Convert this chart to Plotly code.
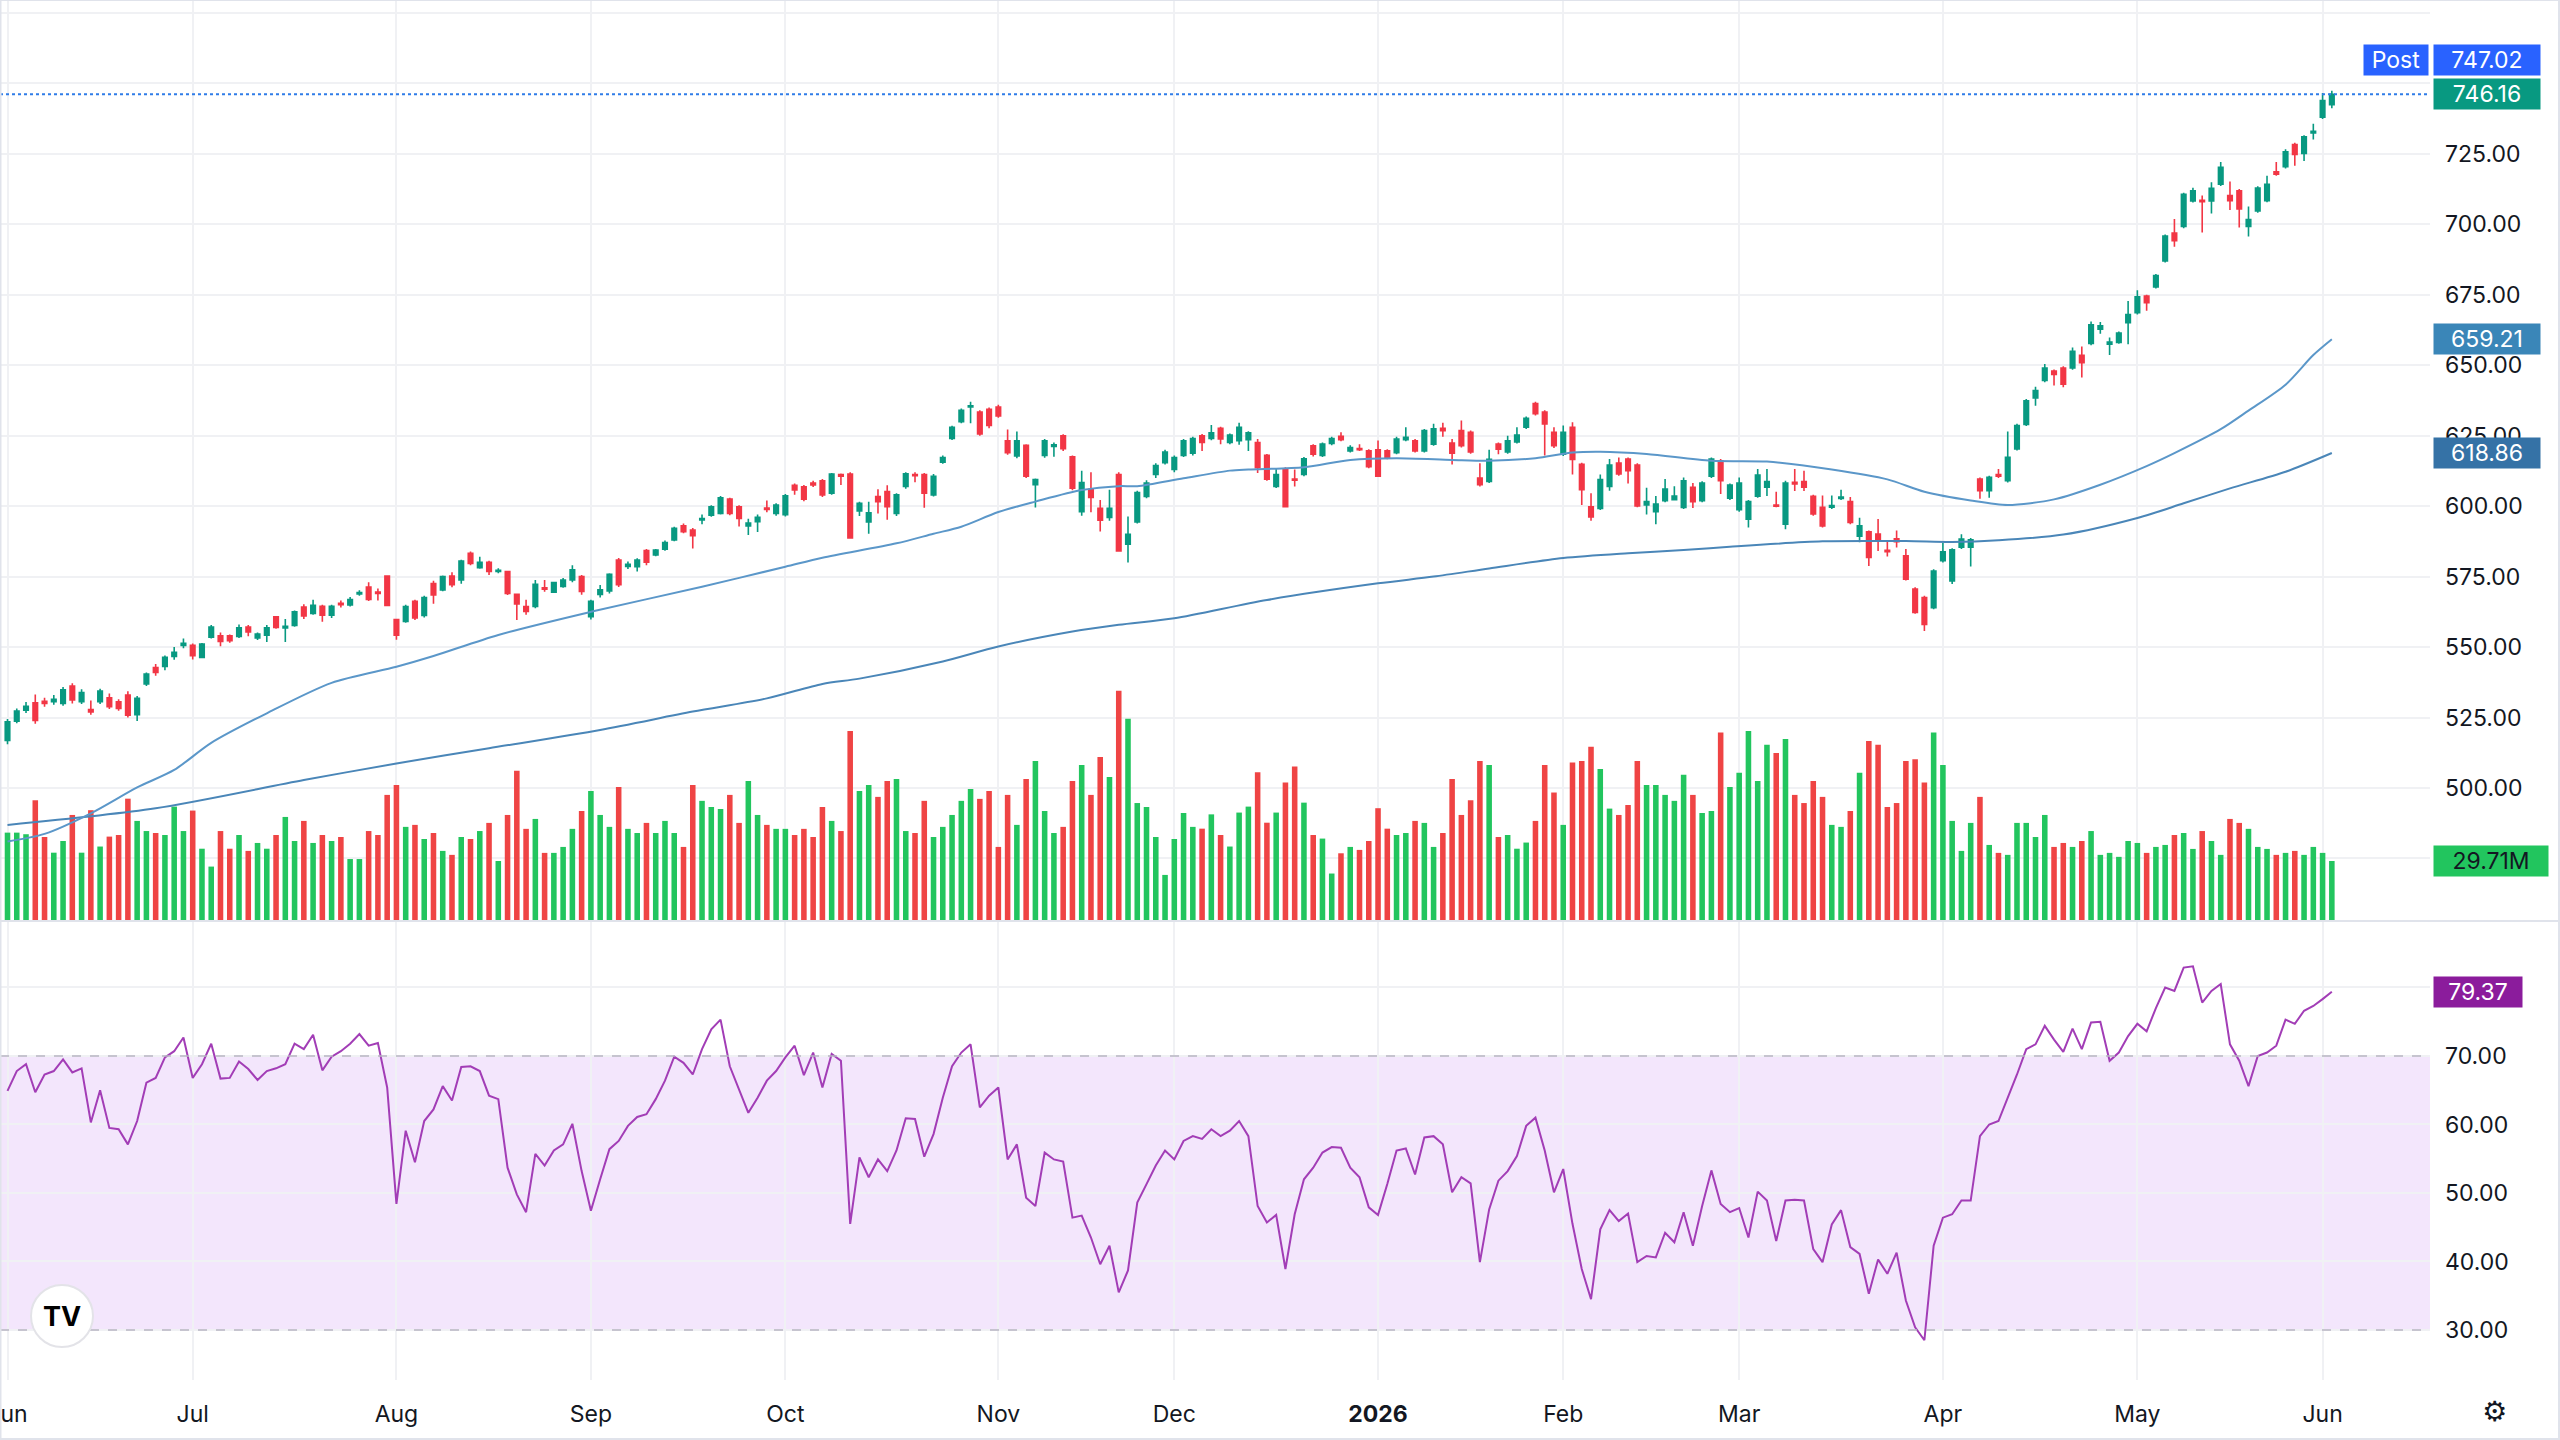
import plotly.graph_objects as go

# ---------------- data ----------------
opens = [
516.9, 523.7, 527.6, 530.2, 530.8, 530.6, 530.0, 536.2, 530.6, 527.8,
530.6, 532.0, 530.6, 533.0, 526.0, 536.9, 542.7, 543.1, 546.7, 550.6,
550.6, 546.3, 553.5, 554.0, 554.0, 553.8, 557.1, 553.2, 554.2, 560.7,
556.8, 557.7, 564.2, 561.9, 564.5, 561.3, 565.5, 564.9, 568.8, 571.3,
569.5, 575.2, 559.8, 559.1, 566.2, 561.2, 572.5, 570.3, 575.2, 573.8,
583.3, 578.2, 580.1, 576.8, 576.8, 568.7, 564.4, 564.4, 571.0, 569.5,
571.5, 573.8, 575.0, 560.8, 568.7, 569.9, 580.9, 578.6, 578.5, 584.2,
582.7, 584.7, 588.0, 593.0, 591.5, 595.1, 596.8, 597.4, 602.5, 599.8,
593.0, 594.5, 599.3, 597.4, 597.0, 607.4, 606.9, 608.2, 609.0, 604.6,
611.2, 611.4, 598.3, 594.4, 603.4, 605.2, 597.4, 607.0, 611.2, 611.2,
604.0, 615.6, 624.0, 630.0, 635.2, 633.4, 634.4, 635.2, 623.2, 617.8,
621.6, 607.6, 618.0, 621.2, 625.0, 617.5, 598.0, 606.0, 599.2, 596.0,
611.2, 586.5, 594.4, 603.4, 611.2, 615.4, 613.0, 618.0, 618.8, 625.0,
624.0, 627.6, 622.6, 623.2, 623.6, 622.6, 618.0, 607.0, 613.2, 609.6,
611.2, 621.4, 618.0, 622.2, 624.8, 619.6, 620.4, 619.6, 620.0, 619.6,
619.0, 623.6, 623.2, 619.6, 622.0, 627.6, 622.4, 626.8, 626.2, 610.0,
608.8, 622.0, 619.2, 622.8, 628.0, 636.4, 633.4, 626.2, 618.4, 628.0,
614.8, 599.8, 599.2, 607.0, 615.3, 616.7, 614.6, 600.4, 598.0, 601.9,
602.3, 599.5, 606.7, 601.9, 610.6, 616.1, 602.8, 598.7, 595.4, 603.5,
606.7, 600.4, 593.6, 608.5, 608.7, 603.5, 599.6, 599.6, 602.7, 601.6,
589.3, 590.9, 590.1, 584.3, 588.4, 582.4, 570.6, 567.6, 564.0, 580.6,
573.5, 585.4, 585.4, 609.6, 605.5, 611.2, 609.0, 620.3, 629.0, 638.4,
644.6, 647.9, 649.0, 649.0, 653.5, 657.7, 662.8, 657.5, 658.1, 665.1,
668.6, 674.5, 677.8, 687.0, 696.9, 699.2, 708.3, 708.5, 708.3, 714.2,
710.2, 711.9, 699.2, 704.7, 708.4, 718.6, 720.4, 728.3, 725.1, 732.4,
738.0, 742.4]

highs = [
524.5, 528.2, 530.5, 533.2, 532.0, 533.0, 535.8, 537.2, 535.0, 531.0,
535.2, 533.5, 531.5, 534.3, 532.6, 541.0, 544.0, 547.0, 550.0, 553.0,
551.3, 551.4, 557.8, 555.2, 554.5, 558.0, 557.8, 555.2, 557.8, 561.0,
560.0, 563.0, 565.2, 566.8, 565.0, 565.0, 566.5, 567.8, 570.2, 573.0,
570.8, 575.5, 559.8, 565.0, 566.8, 568.2, 573.5, 575.4, 576.5, 581.0,
583.9, 582.0, 580.6, 578.0, 577.0, 569.0, 566.8, 573.8, 573.8, 573.2,
574.5, 579.0, 575.6, 566.8, 572.0, 576.2, 581.6, 580.4, 581.5, 584.8,
584.8, 587.8, 592.7, 593.8, 592.2, 597.0, 600.3, 603.6, 603.0, 600.3,
595.5, 597.0, 602.0, 601.0, 604.3, 608.0, 607.5, 609.0, 609.6, 611.8,
611.6, 612.0, 601.6, 601.6, 606.0, 607.4, 604.6, 612.0, 612.0, 611.8,
611.4, 618.0, 628.5, 634.6, 637.0, 634.0, 635.0, 636.0, 627.2, 626.5,
622.0, 609.8, 623.8, 622.6, 625.5, 618.0, 612.6, 612.0, 602.2, 605.8,
612.0, 596.3, 605.5, 609.2, 615.2, 620.0, 618.0, 623.8, 624.6, 625.6,
628.8, 628.2, 625.8, 629.6, 626.6, 623.8, 618.5, 613.4, 613.8, 613.0,
617.4, 622.0, 622.6, 624.6, 626.2, 621.6, 622.0, 620.2, 623.3, 620.2,
624.6, 628.0, 623.8, 627.4, 629.2, 629.6, 623.8, 630.4, 626.8, 615.2,
620.0, 622.6, 625.0, 628.0, 631.8, 637.0, 634.0, 628.0, 628.6, 629.8,
615.4, 604.6, 611.2, 616.7, 617.3, 617.3, 615.2, 606.5, 603.6, 609.6,
607.1, 610.2, 608.2, 608.8, 617.3, 616.7, 608.0, 610.2, 602.2, 613.2,
613.2, 605.1, 609.0, 613.2, 612.6, 604.0, 603.8, 603.8, 605.8, 603.2,
595.9, 591.4, 595.4, 588.0, 591.4, 584.8, 571.2, 568.2, 577.6, 587.0,
585.1, 590.0, 588.7, 610.2, 610.8, 613.2, 626.5, 629.2, 638.0, 642.4,
650.4, 648.5, 649.6, 656.3, 656.6, 665.5, 665.3, 659.8, 662.0, 672.8,
676.6, 675.0, 682.4, 696.4, 701.9, 711.2, 713.0, 710.2, 714.9, 722.1,
715.2, 712.5, 706.3, 713.5, 717.2, 722.1, 726.6, 728.9, 731.6, 735.7,
746.6, 747.4]

lows = [
515.5, 523.0, 526.6, 522.8, 528.8, 529.5, 529.2, 530.0, 529.8, 526.0,
529.8, 528.0, 527.4, 525.0, 523.8, 536.2, 539.8, 541.8, 545.5, 549.6,
545.6, 546.0, 553.0, 550.3, 551.5, 553.2, 553.8, 552.5, 551.8, 556.5,
551.8, 557.2, 560.0, 561.5, 559.0, 560.3, 564.0, 564.4, 568.2, 566.3,
566.5, 564.6, 552.6, 558.6, 559.6, 560.5, 565.4, 569.8, 571.2, 572.5,
579.0, 577.8, 575.6, 576.2, 568.5, 559.6, 561.5, 563.8, 569.6, 569.2,
571.0, 573.0, 568.6, 559.8, 567.6, 569.0, 571.3, 577.7, 576.8, 579.0,
582.2, 584.2, 587.5, 590.4, 585.0, 593.6, 596.2, 597.0, 596.8, 592.8,
589.8, 590.8, 597.8, 596.6, 596.3, 604.0, 601.7, 606.8, 603.2, 604.0,
607.5, 588.5, 596.5, 590.2, 597.4, 595.2, 596.5, 606.2, 608.5, 599.4,
603.4, 615.0, 623.5, 629.4, 629.4, 625.0, 627.6, 631.4, 618.2, 617.0,
610.0, 599.5, 617.2, 617.5, 619.6, 605.6, 596.6, 597.8, 591.0, 594.8,
584.0, 580.0, 593.8, 602.8, 610.0, 614.8, 612.0, 617.4, 618.0, 619.6,
623.4, 622.0, 622.0, 621.8, 619.6, 611.8, 609.0, 606.4, 599.6, 607.0,
610.6, 617.6, 617.4, 621.6, 623.0, 619.0, 619.6, 613.4, 610.4, 616.6,
618.4, 623.0, 619.0, 619.0, 621.4, 624.6, 614.8, 620.8, 618.6, 607.0,
608.2, 618.4, 618.6, 622.2, 627.4, 632.2, 618.0, 620.6, 617.8, 611.2,
600.4, 594.8, 598.6, 605.5, 610.8, 608.0, 599.6, 597.0, 593.6, 601.4,
602.0, 599.0, 599.3, 601.4, 610.0, 604.3, 602.2, 598.0, 592.4, 603.0,
603.6, 599.6, 591.8, 605.4, 605.4, 596.6, 592.4, 599.0, 602.2, 593.6,
587.2, 578.8, 584.1, 582.1, 585.3, 573.6, 561.8, 555.7, 563.4, 580.0,
572.4, 584.8, 578.6, 602.6, 603.0, 610.0, 608.4, 619.7, 628.4, 635.6,
644.0, 642.8, 642.2, 648.4, 645.6, 657.1, 661.2, 653.6, 657.6, 657.4,
668.0, 669.3, 677.2, 686.4, 692.0, 698.6, 707.7, 697.1, 703.8, 713.6,
705.1, 698.9, 695.7, 704.1, 707.8, 717.2, 719.8, 720.8, 722.5, 730.1,
737.4, 741.2]

closes = [
523.5, 527.3, 529.0, 524.0, 530.0, 531.5, 534.8, 531.2, 533.9, 527.0,
534.4, 528.8, 528.2, 525.8, 531.8, 540.4, 541.0, 546.4, 548.1, 551.3,
546.9, 551.1, 557.1, 552.0, 552.3, 556.8, 555.4, 554.6, 556.8, 557.0,
557.4, 562.5, 561.0, 564.8, 561.3, 564.5, 565.0, 566.9, 569.3, 566.9,
569.0, 564.8, 554.2, 564.4, 560.3, 567.6, 568.5, 575.0, 572.1, 580.5,
579.7, 580.1, 576.8, 577.2, 569.0, 565.3, 562.6, 572.3, 570.5, 572.9,
573.8, 577.4, 569.7, 566.2, 570.3, 575.8, 572.1, 579.4, 580.9, 580.1,
584.4, 587.1, 592.1, 590.9, 589.5, 595.6, 599.8, 603.0, 597.4, 595.6,
594.0, 596.0, 598.8, 600.4, 603.7, 605.7, 602.5, 607.5, 604.0, 611.4,
610.6, 588.7, 601.0, 597.6, 601.6, 599.8, 604.0, 611.5, 610.8, 604.6,
610.6, 617.2, 628.0, 634.0, 635.6, 625.6, 628.6, 632.0, 619.0, 623.2,
610.6, 609.4, 623.2, 621.8, 620.4, 606.4, 608.4, 603.1, 595.0, 599.2,
584.1, 590.0, 604.8, 608.2, 614.4, 619.2, 617.2, 623.2, 624.0, 622.6,
626.0, 623.8, 625.2, 628.0, 626.0, 613.6, 609.6, 611.2, 599.8, 609.2,
616.8, 618.4, 622.0, 624.0, 623.6, 620.8, 620.0, 614.0, 610.6, 617.2,
623.8, 624.4, 619.6, 626.8, 627.4, 626.8, 618.8, 621.4, 619.2, 607.6,
616.6, 620.2, 623.2, 625.2, 631.2, 632.8, 629.2, 621.4, 626.2, 616.6,
605.8, 596.2, 609.4, 614.6, 611.4, 612.6, 600.1, 601.6, 600.7, 606.1,
603.6, 609.0, 601.6, 608.2, 616.7, 609.0, 607.5, 608.2, 601.6, 611.0,
608.7, 600.0, 608.2, 607.9, 606.7, 597.2, 593.0, 600.2, 603.2, 594.2,
593.0, 581.8, 587.7, 583.8, 587.4, 574.1, 562.3, 558.0, 577.0, 583.8,
584.5, 588.3, 588.1, 605.5, 610.2, 610.6, 617.3, 628.6, 637.4, 641.0,
649.0, 646.7, 643.3, 654.9, 650.9, 664.3, 664.0, 658.2, 661.4, 668.0,
674.3, 672.2, 681.8, 695.8, 694.2, 710.6, 711.9, 708.0, 712.8, 720.2,
708.4, 705.4, 701.7, 712.9, 714.2, 717.8, 725.7, 724.8, 731.0, 733.0,
743.9, 746.16]

# volume in millions
volumes = [
44.0, 44.0, 43.2, 60.3, 41.8, 33.9, 39.8, 52.9, 33.9, 55.3,
37.0, 42.0, 42.8, 61.1, 49.9, 44.8, 43.8, 42.8, 57.1, 44.8,
55.1, 35.9, 26.9, 44.8, 35.9, 42.8, 34.8, 38.8, 35.9, 42.8,
51.9, 39.8, 49.9, 38.8, 42.8, 39.8, 41.8, 30.7, 30.7, 44.8,
42.8, 63.0, 68.0, 46.9, 47.9, 40.8, 43.8, 34.8, 32.8, 41.8,
40.8, 44.8, 48.9, 29.7, 52.9, 75.1, 45.9, 50.9, 33.8, 33.8,
36.8, 45.9, 54.9, 65.0, 52.9, 46.9, 67.0, 45.9, 43.8, 48.9,
43.8, 49.9, 43.8, 36.8, 68.0, 60.0, 56.9, 55.9, 63.0, 48.9,
70.0, 52.9, 47.9, 45.9, 45.9, 42.8, 45.9, 41.8, 56.9, 49.9,
44.8, 95.2, 65.0, 68.0, 62.0, 70.0, 71.0, 44.8, 43.8, 60.0,
41.8, 46.9, 52.9, 60.0, 66.0, 61.0, 65.0, 36.8, 63.0, 47.9,
71.0, 80.1, 54.9, 43.8, 46.9, 70.0, 78.1, 63.0, 82.1, 72.0,
115.4, 101.3, 58.9, 56.9, 41.8, 22.7, 40.8, 53.9, 46.9, 46.0,
53.2, 42.8, 37.0, 54.1, 57.1, 74.4, 49.0, 54.1, 69.2, 77.3,
59.1, 42.8, 41.0, 23.4, 33.6, 36.8, 35.3, 39.8, 56.3, 46.0,
42.8, 43.8, 49.9, 48.9, 36.8, 43.8, 71.0, 52.9, 60.3, 80.1,
78.1, 41.8, 42.8, 35.9, 39.0, 49.9, 78.1, 64.2, 47.9, 79.3,
80.1, 87.2, 76.1, 56.1, 52.9, 57.9, 80.1, 68.0, 68.0, 63.0,
60.0, 73.1, 63.0, 53.9, 54.9, 94.4, 67.0, 74.1, 95.2, 70.0,
88.2, 84.1, 91.2, 63.0, 58.9, 70.0, 62.0, 47.9, 46.9, 54.9,
74.1, 90.2, 88.2, 56.9, 58.9, 80.1, 80.9, 69.2, 94.4, 78.1,
49.9, 34.8, 48.9, 62.0, 37.8, 33.8, 32.8, 48.9, 48.9, 41.8,
52.9, 36.8, 38.8, 36.8, 39.8, 44.8, 32.8, 33.8, 31.8, 39.8,
38.8, 33.8, 36.8, 37.8, 42.8, 43.8, 35.8, 44.8, 39.8, 32.8,
50.9, 48.9, 45.9, 36.8, 35.8, 32.8, 33.8, 34.8, 32.8, 36.8,
33.8, 29.71]

rsi = [
64.9, 67.8, 68.8, 64.7, 67.3, 67.8, 69.5, 67.6, 68.2, 60.3,
65.0, 59.5, 59.3, 57.1, 60.5, 66.1, 66.8, 69.8, 70.7, 72.7,
66.8, 68.8, 71.8, 66.7, 66.8, 69.2, 68.1, 66.5, 67.8, 68.2,
68.8, 71.8, 71.0, 73.1, 67.9, 69.9, 70.7, 71.8, 73.2, 71.5,
71.9, 65.4, 48.4, 59.1, 54.5, 60.5, 62.2, 65.6, 63.5, 68.4,
68.5, 67.8, 64.2, 63.7, 53.7, 49.8, 47.2, 55.7, 54.0, 56.2,
57.1, 60.1, 53.2, 47.4, 52.0, 56.4, 57.6, 59.8, 61.1, 61.5,
63.7, 66.4, 69.9, 69.0, 67.3, 71.0, 73.9, 75.3, 68.5, 65.1,
61.7, 63.9, 66.4, 67.8, 69.8, 71.5, 67.2, 70.5, 65.4, 70.3,
69.3, 45.5, 55.2, 52.3, 54.9, 53.2, 56.2, 60.9, 60.8, 55.3,
58.6, 63.9, 68.5, 70.5, 71.7, 62.5, 64.2, 65.4, 54.9, 57.1,
49.3, 48.1, 55.9, 54.9, 54.6, 46.4, 46.7, 43.5, 39.6, 42.3,
35.5, 38.7, 48.6, 51.3, 54.0, 56.2, 54.9, 57.6, 58.3, 57.9,
59.3, 58.3, 59.1, 60.5, 58.3, 48.1, 45.7, 46.8, 38.9, 46.9,
52.0, 53.7, 55.9, 56.7, 56.6, 53.7, 52.3, 47.9, 46.8, 51.3,
56.2, 56.5, 52.7, 58.1, 58.3, 57.1, 50.1, 52.3, 51.4, 39.9,
47.6, 51.8, 53.2, 55.4, 59.8, 61.0, 56.2, 50.1, 53.5, 45.5,
38.9, 34.5, 44.7, 47.5, 45.9, 47.0, 39.9, 40.8, 40.6, 44.2,
42.8, 47.2, 42.3, 48.1, 53.3, 48.4, 47.2, 47.8, 43.5, 50.2,
48.9, 43.0, 48.9, 49.0, 48.9, 41.8, 39.9, 45.4, 47.5, 42.1,
41.1, 35.3, 40.3, 38.2, 41.3, 34.3, 30.4, 28.5, 42.3, 46.4,
46.9, 48.9, 48.9, 58.3, 60.0, 60.5, 63.9, 67.3, 71.0, 71.7,
74.4, 72.4, 70.6, 74.0, 71.0, 74.9, 75.0, 69.3, 70.5, 72.9,
74.7, 73.6, 77.0, 80.0, 79.5, 82.9, 83.1, 77.8, 79.5, 80.5,
71.7, 69.3, 65.6, 70.0, 70.5, 71.5, 75.3, 74.7, 76.6, 77.3,
78.3, 79.37]

# moving averages read at sample bars
ma50_x = [0, 4, 9, 14, 18, 22, 28, 35, 42, 46, 53, 63, 75, 84, 88, 96, 100, 103, 107, 111,
          116, 120, 122, 127, 132, 134, 140, 145, 150, 156, 160, 165, 169, 172, 177, 184,
          190, 197, 203, 207, 212, 216, 221, 226, 231, 234, 239, 242, 246, 249, 251]
ma50 = [481.0, 483.7, 491.0, 500.2, 506.4, 516.0, 526.5, 537.3, 543.0, 546.8, 554.3, 562.5,
        571.4, 578.5, 581.7, 586.8, 590.2, 592.7, 597.9, 601.6, 605.7, 607.1, 607.1, 609.9,
        612.6, 613.0, 613.8, 616.4, 617.0, 616.4, 616.1, 617.0, 619.0, 619.3, 618.5, 616.1,
        615.8, 613.0, 609.5, 605.1, 602.0, 600.4, 602.4, 607.6, 614.2, 618.8, 627.3, 633.9,
        643.1, 653.6, 659.21]
ma200_x = [0, 16, 32, 42, 52, 64, 74, 82, 88, 92, 101, 107, 115, 120, 126, 136, 148, 154,
           160, 168, 175, 181, 186, 196, 205, 210, 215, 222, 230, 235, 240, 246, 251]
ma200 = [486.9, 492.8, 502.8, 508.7, 514.1, 520.6, 527.1, 531.8, 536.9, 538.8, 544.9, 550.2,
         555.5, 557.9, 560.2, 566.7, 572.6, 575.0, 577.9, 581.6, 583.3, 584.4, 585.6, 587.5,
         587.6, 587.3, 587.9, 589.9, 595.8, 601.0, 606.3, 612.2, 618.86]

month_ticks = [0, 20, 42, 63, 84, 107, 126, 148, 168, 187, 209, 230, 250]
month_labels = ["Jun", "Jul", "Aug", "Sep", "Oct", "Nov", "Dec", "<b>2026</b>",
                "Feb", "Mar", "Apr", "May", "Jun"]

price_ticks = [475, 500, 525, 550, 575, 600, 625, 650, 675, 700, 725, 750, 775]
hidden_price_ticks = [475, 750]   # covered by the value labels in the reference
rsi_ticks = [30, 40, 50, 60, 70, 80]
hidden_rsi_ticks = [80]

last_price = 746.16
post_price = 747.02
last_volume = 29.71
last_rsi = 79.37

# ---------------- styling ----------------
FONT = "Inter, Roboto, sans-serif"
TXT = "#131722"
GRID = "#F0F1F4"
UP, DOWN = "#089981", "#F23645"
VUP, VDOWN = "#22C55E", "#EF4444"

n = len(closes)
xs = list(range(n))
vol_colors = [VUP if c >= o else VDOWN for o, c in zip(opens, closes)]

fig = go.Figure()

fig.add_trace(go.Bar(
    x=xs, y=volumes, marker=dict(color=vol_colors, line=dict(width=0)),
    width=0.6, yaxis="y", xaxis="x", hoverinfo="skip"))

fig.add_trace(go.Scatter(
    x=ma200_x, y=ma200, mode="lines", yaxis="y2", hoverinfo="skip",
    line=dict(color="#4A86B8", width=2, shape="spline", smoothing=0.8)))
fig.add_trace(go.Scatter(
    x=ma50_x, y=ma50, mode="lines", yaxis="y2", hoverinfo="skip",
    line=dict(color="#5B97C9", width=2, shape="spline", smoothing=0.8)))

fig.add_trace(go.Candlestick(
    x=xs, open=opens, high=highs, low=lows, close=closes, yaxis="y2",
    increasing=dict(line=dict(color=UP, width=1.6), fillcolor=UP),
    decreasing=dict(line=dict(color=DOWN, width=1.6), fillcolor=DOWN),
    hoverinfo="skip", whiskerwidth=0))

fig.add_trace(go.Scatter(
    x=xs, y=rsi, mode="lines", yaxis="y3", hoverinfo="skip",
    line=dict(color="#A23DB6", width=2)))

PLOT_H = 1380
PLOT_W = 2430
top_dom = [1 - 920 / PLOT_H, 1.0]
rsi_dom = [0.0, 1 - 922 / PLOT_H]

logo_cx, logo_cy, logo_r = 62, 1316, 31   # pixels

shapes = [
    # RSI band
    dict(type="rect", xref="paper", yref="y3", x0=0, x1=1, y0=30, y1=70,
         fillcolor="#F3E6FC", line=dict(width=0), layer="below"),
    dict(type="line", xref="paper", yref="y3", x0=0, x1=1, y0=70, y1=70,
         line=dict(color="#B8B5C2", width=1.5, dash="dash")),
    dict(type="line", xref="paper", yref="y3", x0=0, x1=1, y0=30, y1=30,
         line=dict(color="#B8B5C2", width=1.5, dash="dash")),
    # last price dotted line
    dict(type="line", xref="paper", yref="y2", x0=0, x1=1, y0=last_price, y1=last_price,
         line=dict(color="#2F7CE8", width=2, dash="dot")),
    # pane separator
    dict(type="line", xref="paper", yref="paper", x0=0, x1=2560 / PLOT_W,
         y0=1 - 921 / PLOT_H, y1=1 - 921 / PLOT_H, line=dict(color="#E0E3EB", width=2)),
    # outer frame
    dict(type="rect", xref="paper", yref="paper", x0=0.0002, x1=2559 / PLOT_W,
         y0=-59 / PLOT_H, y1=1.0, line=dict(color="#E0E3EB", width=2),
         fillcolor="rgba(0,0,0,0)"),
    # TradingView logo disc
    dict(type="circle", xref="paper", yref="paper",
         x0=(logo_cx - logo_r) / PLOT_W, x1=(logo_cx + logo_r) / PLOT_W,
         y0=1 - (logo_cy + logo_r) / PLOT_H, y1=1 - (logo_cy - logo_r) / PLOT_H,
         fillcolor="white", line=dict(color="#E3E3E8", width=2), layer="above"),
]

def side_label(text, y, yref, bg, fg="white", width=104):
    return dict(text=text, xref="paper", x=1, xanchor="left", xshift=3,
                yref=yref, y=y, yanchor="middle", showarrow=False,
                bgcolor=bg, font=dict(family=FONT, size=23, color=fg),
                width=width, height=28, align="center", borderpad=1)

annotations = [
    side_label(f"{last_price:.2f}", last_price, "y2", "#089981"),
    side_label(f"{post_price:.2f}", 1 - 60 / PLOT_H, "paper", "#2962FF"),
    side_label(f"{ma50[-1]:.2f}", ma50[-1], "y2", "#3A86B8"),
    side_label(f"{ma200[-1]:.2f}", ma200[-1], "y2", "#3572A6"),
    side_label(f"{last_volume:.2f}M", last_volume, "y", "#22C55E", fg="#131722", width=112),
    side_label(f"{last_rsi:.2f}", last_rsi, "y3", "#8B1C9C", width=86),
    dict(text="Post", xref="paper", x=1, xanchor="right", xshift=-1,
         yref="paper", y=1 - 60 / PLOT_H, yanchor="middle", showarrow=False,
         bgcolor="#2962FF", font=dict(family=FONT, size=23, color="white"),
         width=62, height=28, align="center", borderpad=1),
    dict(text="<b>TV</b>", xref="paper", yref="paper", x=logo_cx / PLOT_W,
         y=1 - logo_cy / PLOT_H, xanchor="center", yanchor="middle", showarrow=False,
         font=dict(family=FONT, size=27, color="#000000")),
    dict(text="⚙", xref="paper", yref="paper", x=2494 / PLOT_W, y=-31 / PLOT_H,
         xanchor="center", yanchor="middle", showarrow=False,
         font=dict(family="DejaVu Sans", size=28, color=TXT)),
]

fig.update_layout(
    width=2560, height=1440,
    margin=dict(l=0, r=130, t=0, b=60, autoexpand=False),
    paper_bgcolor="white", plot_bgcolor="white",
    showlegend=False, bargap=0.4,
    font=dict(family=FONT, size=23, color=TXT),
    xaxis=dict(
        range=[-0.81, 261.6], anchor="y3", tickmode="array",
        tickvals=month_ticks, ticktext=month_labels, automargin=False,
        showgrid=True, gridcolor=GRID, gridwidth=1.5, zeroline=False,
        showline=False, ticks="", ticklabelstandoff=18, ticklabeloverflow="allow",
        tickfont=dict(family=FONT, size=23, color=TXT),
        rangeslider=dict(visible=False), fixedrange=True),
    yaxis=dict(domain=top_dom, range=[0, 463.3], visible=False, fixedrange=True,
               automargin=False),
    yaxis2=dict(
        domain=top_dom, overlaying="y", side="right", anchor="x", automargin=False,
        range=[453.16, 779.58], tickmode="array", tickvals=price_ticks,
        ticktext=["" if v in hidden_price_ticks else f"{v:.2f}" for v in price_ticks],
        showgrid=True, gridcolor=GRID, gridwidth=1.5, zeroline=False,
        ticks="", ticklabelstandoff=14, showline=False,
        tickfont=dict(family=FONT, size=23, color=TXT), fixedrange=True),
    yaxis3=dict(
        domain=rsi_dom, side="right", anchor="x", automargin=False,
        range=[22.70, 89.56], tickmode="array", tickvals=rsi_ticks,
        ticktext=["" if v in hidden_rsi_ticks else f"{v:.2f}" for v in rsi_ticks],
        showgrid=True, gridcolor=GRID, gridwidth=1.5, zeroline=False,
        ticks="", ticklabelstandoff=14, showline=False,
        tickfont=dict(family=FONT, size=23, color=TXT), fixedrange=True),
    shapes=shapes,
    annotations=annotations,
)

fig.write_html("out.html", config={"displayModeBar": False, "responsive": False})
